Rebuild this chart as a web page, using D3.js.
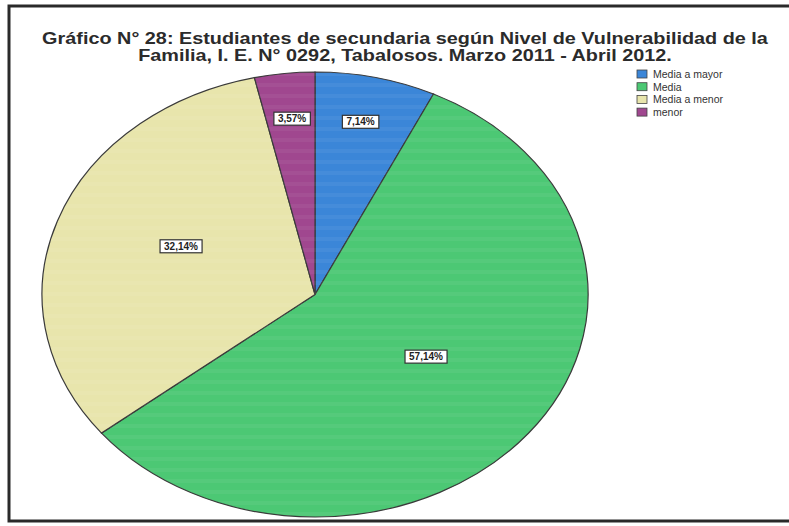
<!DOCTYPE html>
<html>
<head>
<meta charset="utf-8">
<script src="https://cdn.jsdelivr.net/npm/d3@7"></script>
<style>
  body { margin: 0; background: #fff; }
  svg { display: block; font-family: "Liberation Sans", Arial, sans-serif; }
</style>
</head>
<body>
<div class="chart"></div>
<script>
const categories = ['Media a mayor', 'Media', 'Media a menor', 'menor']
const values = [7.14, 57.14, 32.14, 3.57]
const labels = ['7,14%', '57,14%', '32,14%', '3,57%']
const colors = ['#3b86d8', '#4cc874', '#e8e5ac', '#a0478f']
const titleLines = [
  'Gráfico N° 28: Estudiantes de secundaria según Nivel de Vulnerabilidad de la',
  'Familia, I. E. N° 0292, Tabalosos. Marzo 2011 - Abril 2012.'
]

const width = 789, height = 526
const cx = 315, cy = 294.5, rx = 273, ry = 222.5

let svg = d3.select('.chart')
  .append('svg')
  .attr('width', width)
  .attr('height', height)

// scanned page frame
svg.append('path')
  .attr('d', `M${width},6 H9 V521 H${width}`)
  .attr('fill', 'none')
  .attr('stroke', '#2a2a2a')
  .attr('stroke-width', 3)

// title is wide and squat in the scan
svg.append('g')
  .attr('transform', 'translate(405,0) scale(1.24,1)')
  .selectAll('text')
  .data(titleLines)
  .enter()
  .append('text')
  .attr('x', 0)
  .attr('y', (d, i) => 44 + i * 17.5)
  .attr('text-anchor', 'middle')
  .attr('font-size', 16)
  .attr('font-weight', 'bold')
  .attr('fill', '#2b2b2b')
  .text(d => d)

let pie = d3.pie().sort(null).value(d => d)
let arcs = pie(values)

// unit circle arc, stretched into an ellipse
let arc = d3.arc().innerRadius(0).outerRadius(1)

let pieG = svg.append('g')
  .attr('transform', `translate(${cx},${cy}) scale(${rx},${ry})`)

pieG.selectAll('path')
  .data(arcs)
  .enter()
  .append('path')
  .attr('d', arc)
  .attr('fill', (d, i) => colors[i])
  .attr('stroke', '#3a3a3a')
  .attr('stroke-width', 1.2)
  .attr('vector-effect', 'non-scaling-stroke')

// faint horizontal scan banding
let defs = svg.append('defs')
defs.append('clipPath').attr('id', 'pieClip')
  .append('ellipse')
  .attr('cx', cx).attr('cy', cy).attr('rx', rx - 1).attr('ry', ry - 1)

svg.append('g')
  .attr('clip-path', 'url(#pieClip)')
  .selectAll('rect')
  .data(d3.range(cy - ry, cy + ry, 11))
  .enter()
  .append('rect')
  .attr('x', cx - rx)
  .attr('y', d => d)
  .attr('width', rx * 2)
  .attr('height', 4)
  .attr('fill', '#fff')
  .attr('opacity', 0.05)

const labelR = d => (d.value < 10 ? 0.75 : 0.52)

let labelG = svg.append('g')

arcs.forEach((d, i) => {
  let a = (d.startAngle + d.endAngle) / 2
  let r = labelR(d)
  let x = cx + Math.sin(a) * r * rx
  let y = cy - Math.cos(a) * r * ry - 10
  let g = labelG.append('g').attr('transform', `translate(${x},${y})`)
  let t = g.append('text')
    .attr('text-anchor', 'middle')
    .attr('dy', '0.36em')
    .attr('font-size', 10)
    .attr('font-weight', 'bold')
    .attr('fill', '#222')
    .text(labels[i])
  let bb = t.node().getBBox()
  g.insert('rect', 'text')
    .attr('x', bb.x - 4)
    .attr('y', -6.5)
    .attr('width', bb.width + 8)
    .attr('height', 13)
    .attr('fill', '#fff')
    .attr('stroke', '#333')
    .attr('stroke-width', 1.2)
})

let legend = svg.append('g')
  .attr('transform', 'translate(637,70)')

let rows = legend.selectAll('g')
  .data(categories)
  .enter()
  .append('g')
  .attr('transform', (d, i) => `translate(0,${i * 12.7})`)

rows.append('rect')
  .attr('width', 10)
  .attr('height', 8)
  .attr('fill', (d, i) => colors[i])
  .attr('stroke', '#444')
  .attr('stroke-width', 0.8)

rows.append('text')
  .attr('x', 16)
  .attr('y', 8)
  .attr('font-size', 10.5)
  .attr('fill', '#333')
  .text(d => d)
</script>
</body>
</html>
